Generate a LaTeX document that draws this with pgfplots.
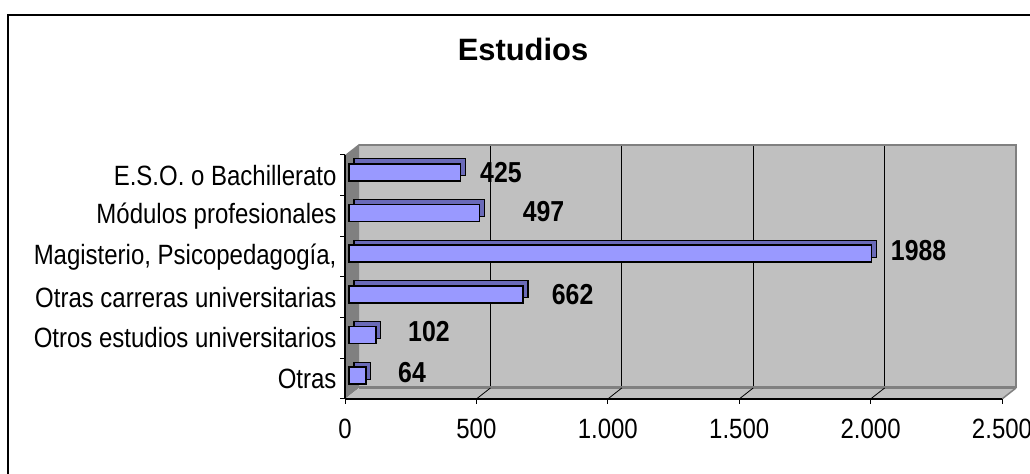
\documentclass[border=0pt]{standalone}
\usepackage{fontspec}
\setmainfont{Liberation Sans}
\newfontfamily\narrow{Liberation Sans}[FakeStretch=0.86]
\usepackage{pgfplots}
\pgfplotsset{compat=1.18}
\usepackage{pgfplotstable}
\definecolor{barfront}{HTML}{9999FF}
\definecolor{barside}{HTML}{6A6AB8}
\definecolor{wallgray}{HTML}{C0C0C0}
\definecolor{darkgray}{HTML}{808080}

\pgfplotstableread{
y v dx dy
5 425 23.3 2.3
4 497 47 4.3
3 1988 23.3 5.7
2 662 32.7 2.3
1 102 36.2 6.3
0 64 36.2 5.7
}\datatable

\begin{document}
\begin{tikzpicture}[x=1bp,y=1bp]
\useasboundingbox (0,0) rectangle (1030,474);
% chart frame
\draw[line width=1.3bp] (8,-5) -- (8,459) -- (1040,459);
% title
\node[font=\bfseries\fontsize{31}{33}\selectfont, anchor=base] at (523,413) {Estudios};
% 3D walls (decoration)
\fill[wallgray] (359,86) rectangle (1016,329);
\fill[darkgray] (345,75) -- (345,319) -- (359,330) -- (359,86) -- cycle;
\fill[wallgray] (345,75) -- (1002,75) -- (1016,86) -- (359,86) -- cycle;
\draw[darkgray, line width=2bp] (359,329) -- (1016,329) -- (1016,86);
\draw[darkgray, line width=3bp] (359,86) -- (1016,86);
\draw[darkgray, line width=1.5bp] (1002,75) -- (1016,86);
\foreach \k in {1,2,3,4} {
  \draw[black, line width=1bp] (359+\k*131.4,87.5) -- (359+\k*131.4,328);
  \draw[black, line width=0.8bp] (345+\k*131.4,75) -- (359+\k*131.4,86);
}
\begin{axis}[
  at={(345bp,75bp)}, anchor=south west,
  scale only axis, width=657bp, height=244bp,
  xmin=0, xmax=2500, ymin=-0.5, ymax=5.5,
  axis x line*=bottom, axis y line*=left,
  axis line style={black, line width=1.2bp, -},
  xtick={0,500,1000,1500,2000,2500},
  xticklabels={0,500,1.000,1.500,2.000,2.500},
  ytick={-0.5,0.5,1.5,2.5,3.5,4.5,5.5},
  y tick label as interval,
  yticklabels={Otras, Otros estudios universitarios, Otras carreras universitarias, {Magisterio, Psicopedagogía,}, Módulos profesionales, E.S.O. o Bachillerato},
  tick align=outside, major tick length=5bp,
  tick style={black, line width=1bp},
  tick label style={font=\narrow\fontsize{28}{30}\selectfont},
  xticklabel style={yshift=-12bp},
  clip=false,
]
\addplot[xbar, bar width=17bp, bar shift=0pt, fill=barside, draw=black, line width=1.1bp, xshift=9bp, yshift=8bp] table[x=v,y=y]{\datatable};
\addplot[xbar, bar width=17bp, bar shift=0pt, fill=barfront, draw=black, line width=1.6bp, xshift=4bp, yshift=3bp] table[x=v,y=y]{\datatable};
\addplot[draw=none, mark=none,
  point meta=explicit symbolic,
  visualization depends on={\thisrow{dx} \as \dx},
  visualization depends on={\thisrow{dy} \as \dy},
  nodes near coords={\pgfplotspointmeta},
  nodes near coords style={anchor=west, inner sep=0pt, xshift=\dx bp, yshift=\dy bp, font=\narrow\bfseries\fontsize{29}{31}\selectfont, black},
] table[x=v,y=y,meta=v]{\datatable};
\end{axis}
\end{tikzpicture}
\end{document}
